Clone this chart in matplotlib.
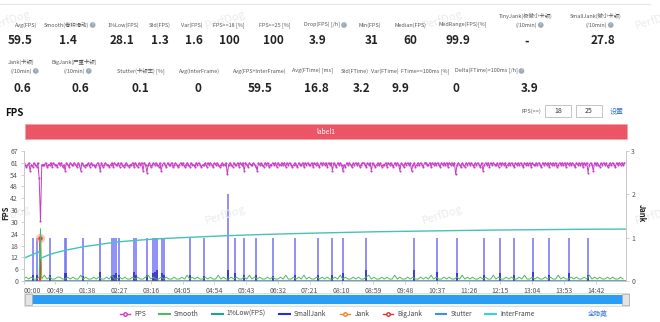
import numpy as np
import matplotlib.pyplot as plt
from matplotlib.lines import Line2D
from matplotlib.patches import Rectangle

plt.rcParams['font.family'] = ['Noto Sans CJK SC', 'DejaVu Sans']

# ---- summary table -------------------------------------------------------
row1_labels = ['Avg(FPS)', 'Smooth(卷积滑动)', '1%Low(FPS)', 'Std(FPS)', 'Var(FPS)',
               'FPS>=18 [%]', 'FPS>=25 [%]', 'Drop(FPS) [/h]', 'Min(FPS)',
               'Median(FPS)', 'MedRange(FPS)[%]', 'TinyJank(极微小卡顿)\n(/10min)',
               'SmallJank(微小卡顿)\n(/10min)']
row1_values = ['59.5', '1.4', '28.1', '1.3', '1.6', '100', '100', '3.9', '31',
               '60', '99.9', '-', '27.8']
row2_labels = ['Jank(卡顿)\n(/10min)', 'BigJank(严重卡顿)\n(/10min)', 'Stutter(卡顿率) [%]',
               'Avg(InterFrame)', 'Avg(FPS+InterFrame)', 'Avg(FTime) [ms]', 'Std(FTime)',
               'Var(FTime)', 'FTime>=100ms [%]', 'Delta(FTime)>100ms [/h]']
row2_values = ['0.6', '0.6', '0.1', '0', '59.5', '16.8', '3.2', '9.9', '0', '3.9']

# ---- time series (seconds) -----------------------------------------------
# FPS sampled every 2 s, one code per sample
FPS_LEVELS = {'a': 61, '0': 60, '9': 59, '8': 57, '7': 56, '5': 55}
FPS_CODES = (
    "a090a809a09a00000a900a9a009a0a908a09a00a09a08a0900a9a0090a"
    "08a90a0090a9a00a9a090a0900a9a09a0a8a070a90a0a09a80a09a00a9"
    "0a090a0a90a09a009a0a0900a9a0a09a0a090a00a50a09a00a9a0a8a09"
    "a00a098a0a09a0a900a0a9a00a0a9a0a090a09a00a9a0a00a9a0a09a0a"
    "0a9a0a8a09a0a0809a0a09a0a0a90aa09a0a8a090a0a900a9a0a09a0a0"
    "8a09a0a0a80a90a0a09aa00a9a0a0a09a0a0a9a0a0a50a09a09a0a0a09"
    "a0a09a80a0a9a0a00a9a0a0a90a0a09a0a0a09a0a0a9a00a0a09a0a0a9"
    "a0a0a90a0a0a9a0a0a09a0a0a9a0a70a08a0a09a0a0a90a0a09a0a0a0a"
)
fps_drop_t = [24, 26]
fps_drop_v = [53, 31]

# Smooth sampled every 4 s
SMOOTH_CODES = (
    "1212112131211221121211312112121121311212112121123121121211"
    "2112131212112121131211212112131212112121121311212131211212"
    "1211213121121211231211212113121121211212131211212112131212"
    "1121211312112121121311212112121131211212112131212112121121"
)
smooth_spike_t = [26]
smooth_spike_v = [27]

# 1%Low(FPS), running value
low_t = [0, 12, 24, 26, 41, 54, 66, 80, 92, 105, 118, 130, 143, 170, 195, 220,
         246, 280, 315, 360, 410, 472, 540, 600, 660, 729, 800, 860, 928]
low_v = [11.7, 13.4, 15.1, 11.7, 13.8, 15.0, 16.0, 16.9, 17.7, 18.3, 18.9, 19.5,
         20.1, 20.9, 21.5, 22.0, 22.4, 22.9, 23.4, 23.9, 24.4, 24.9, 25.4, 25.7,
         26.0, 26.3, 26.5, 26.7, 26.8]

# SmallJank events (count) and the stutter stub under each
small_jank_t = [15, 20, 26, 40, 64, 65, 91, 118, 137, 140, 143, 147, 170, 174,
                190, 199, 202, 206, 214, 216, 256, 278, 315, 326, 340, 358, 385,
                418, 454, 476, 493, 528, 602, 637, 668, 709, 734, 756, 785, 810,
                840, 870]
small_jank_v = [1] * 22 + [2] + [1] * 19
stutter_v = [0.15, 0.15, 0.2, 0.15, 0.18, 0.18, 0.12, 0.2, 0.15, 0.15, 0.18, 0.15,
             0.2, 0.15, 0.15, 0.18, 0.2, 0.25, 0.18, 0.15, 0.15, 0.12, 0.25, 0.18,
             0.15, 0.15, 0.12, 0.15, 0.15, 0.15, 0.18, 0.25, 0.25, 0.2, 0.18, 0.15,
             0.18, 0.15, 0.2, 0.15, 0.18, 0.15]
jank_t = [26]
jank_v = [1]
big_jank_t = [26]
big_jank_v = [1]

duration = 928

W, H = 660, 322
def fx(x):
    return x / W
def fy(y):
    return 1 - y / H

fig = plt.figure(figsize=(6.6, 3.22), dpi=100)
renderer = fig.canvas.get_renderer()

# watermark
for wx in [10, 225, 442, 655]:
    for wy in [20, 215]:
        fig.text(fx(wx), fy(wy), 'PerfDog', fontsize=8, color='#ebebf0',
                 rotation=17, ha='center', va='center', zorder=0)

fig.add_artist(Line2D([0, fx(650)], [fy(4), fy(4)], color='#e6e6e6', lw=0.8))

def info_icon(x, y):
    fig.text(fx(x), fy(y), '?', fontsize=2.4, color='white', ha='center', va='center',
             bbox=dict(boxstyle='circle,pad=0.25', fc='#9fa8b6', ec='none'))

def put_label(x, y, text, icon):
    lines = text.split('\n')
    if len(lines) == 2:
        fig.text(fx(x), fy(y - 9), lines[0], fontsize=3.9, color='#555555',
                 ha='center', va='center')
    t = fig.text(fx(x), fy(y), lines[-1], fontsize=3.9, color='#555555',
                 ha='center', va='center')
    if icon:
        right = t.get_window_extent(renderer).x1
        info_icon(right + 4, y)

label1_x = [26, 66, 123, 160, 192, 229, 275, 322, 370, 410, 463, 526, 596]
value1_x = [20, 68, 122, 160, 194, 229, 273, 318, 372, 410, 458, 527, 603]
icons1 = [False, True, False, False, False, False, False, True, False, False, False, True, True]
for i, lab in enumerate(row1_labels):
    put_label(label1_x[i], 25, lab, icons1[i])
    fig.text(fx(value1_x[i]), fy(41), row1_values[i], fontsize=8.5, fontweight='bold',
             color='#222222', ha='center', va='center')

label2_x = [21, 74, 141, 199, 260, 313, 355, 385, 425, 486]
value2_x = [22, 80, 140, 198, 260, 316, 362, 400, 456, 530]
icons2 = [True, True, False, False, False, False, False, False, False, True]
for i, lab in enumerate(row2_labels):
    put_label(label2_x[i], 71, lab, icons2[i])
    fig.text(fx(value2_x[i]), fy(88), row2_values[i], fontsize=8.5, fontweight='bold',
             color='#222222', ha='center', va='center')

# section header and threshold inputs
fig.text(fx(5), fy(113), 'FPS', fontsize=7, fontweight='bold', color='#111111', va='center')
fig.text(fx(541), fy(111), 'FPS(>=)', fontsize=4, color='#555555', ha='right', va='center')
for bx, val in [(545, '18'), (576, '25')]:
    fig.add_artist(Rectangle((fx(bx), fy(117)), 26 / W, 12 / H, transform=fig.transFigure,
                             fc='white', ec='#bbbbbb', lw=0.6))
    fig.text(fx(bx + 13), fy(111), val, fontsize=5, color='#333333', ha='center', va='center')
fig.text(fx(617), fy(111), '设置', fontsize=5, color='#3a7bd5', ha='center', va='center')

# label band
fig.add_artist(Rectangle((fx(25), fy(139)), 602 / W, 15 / H, transform=fig.transFigure,
                         fc='#ec5565', ec='#f5a0a8', lw=0.6))
fig.text(fx(326), fy(131.5), 'label1', fontsize=4.8, color='white', ha='center', va='center')

# ---- main chart -----------------------------------------------------------
ax = fig.add_axes([fx(23.6), fy(281), (625.7 - 23.6) / W, 130 / H])
ax2 = ax.twinx()
ax.set_zorder(ax2.get_zorder() + 1)
ax.patch.set_visible(False)

t_fps = np.arange(len(FPS_CODES)) * 2
fps = np.array([FPS_LEVELS[c] for c in FPS_CODES], dtype=float)
fps[np.searchsorted(t_fps, fps_drop_t)] = fps_drop_v

t_smooth = np.arange(len(SMOOTH_CODES)) * 4
smooth = np.array([int(c) for c in SMOOTH_CODES], dtype=float)
t_smooth = np.concatenate([t_smooth, smooth_spike_t])
smooth = np.concatenate([smooth, smooth_spike_v])
order = np.argsort(t_smooth, kind='stable')
t_smooth, smooth = t_smooth[order], smooth[order]

# right axis: janks
t_base = [0, duration]
ax2.plot(t_base, [0, 0], color='#3d8fe8', lw=1.2)
ax2.plot(t_base, [0, 0], color='#33d0e6', lw=1.0)
ax2.vlines(small_jank_t, 0, small_jank_v, color='#7373f5', lw=1.3, alpha=0.85)
ax2.vlines(small_jank_t, 0, stutter_v, color='#3535c8', lw=1.3)
ax2.vlines(jank_t, 0, jank_v, color='#f0862a', lw=1.4)
ax2.plot(t_base, [0, 0], color='#d9893a', lw=1.0)
ax2.vlines(big_jank_t, 0, big_jank_v, color='#e8302f', lw=1.2)
ax2.scatter(big_jank_t, big_jank_v, s=45, color='#f3a0a0', alpha=0.6, lw=0, zorder=5)
ax2.scatter(big_jank_t, big_jank_v, s=10, color='#e8302f', lw=0, zorder=6)

# left axis: FPS family
ax.plot(t_smooth, smooth, color='#52b85a', lw=0.7)
ax.plot(low_t, low_v, color='#45c2bb', lw=1.0)
ax.plot(t_fps, fps, color='#c83cc6', lw=0.7, marker='o', ms=1.5, mew=0)

ax.set_xlim(0, duration)
ax.set_ylim(0, 67.1)
ax2.set_ylim(0, 3)

yt = np.arange(12) * 6.1
ax.set_yticks(yt)
ax.set_yticklabels([str(int(np.floor(v + 1e-9))) for v in yt])
ax2.set_yticks([0, 1, 2, 3])

xt = np.arange(0, 883, 49)
ax.set_xticks(xt)
ax.set_xticklabels(['%02d:%02d' % (s // 60, s % 60) for s in xt])
ax.get_xticklabels()[0].set_horizontalalignment('left')

for a in (ax, ax2):
    a.spines['top'].set_visible(False)
    for side in ('left', 'right', 'bottom'):
        a.spines[side].set_color('#c8c8c8')
        a.spines[side].set_linewidth(0.7)
    a.tick_params(labelsize=5, colors='#555555', length=2.5, width=0.6, pad=1.5)
ax.spines['right'].set_visible(False)
ax2.spines['left'].set_visible(False)
ax2.spines['bottom'].set_visible(False)
ax.tick_params(axis='both', color='#c8c8c8')
ax2.tick_params(axis='y', color='#c8c8c8')

fig.text(fx(6), fy(213), 'FPS', fontsize=5.5, fontweight='bold', rotation=90,
         ha='center', va='center', color='#222222')
fig.text(fx(641), fy(213), 'Jank', fontsize=5.5, fontweight='bold', rotation=270,
         ha='center', va='center', color='#222222')

# zoom slider
fig.add_artist(Rectangle((fx(24), fy(306)), 605 / W, 13 / H, transform=fig.transFigure,
                         fc='#f3f3f3', ec='#d8d8d8', lw=0.6))
fig.add_artist(Rectangle((fx(28), fy(304)), 598 / W, 9 / H, transform=fig.transFigure,
                         fc='#2a9df4', ec='none'))
for hx in (25, 622):
    fig.add_artist(Rectangle((fx(hx), fy(305)), 7 / W, 11 / H, transform=fig.transFigure,
                             fc='#e4e4e4', ec='#aaaaaa', lw=0.5))

# legend
handles = [
    Line2D([], [], color='#c83cc6', lw=1, marker='o', ms=2.5, mfc='white'),
    Line2D([], [], color='#52b85a', lw=1.5),
    Line2D([], [], color='#1fa397', lw=1.5),
    Line2D([], [], color='#2b2bd8', lw=1.5),
    Line2D([], [], color='#f0862a', lw=1, marker='o', ms=2.5, mfc='white'),
    Line2D([], [], color='#e8302f', lw=1, marker='o', ms=2.5, mfc='white'),
    Line2D([], [], color='#3d8fe8', lw=1.5),
    Line2D([], [], color='#33d0e6', lw=1.5),
]
names = ['FPS', 'Smooth', '1%Low(FPS)', 'SmallJank', 'Jank', 'BigJank', 'Stutter', 'InterFrame']
fig.legend(handles, names, loc='center', bbox_to_anchor=(fx(327), fy(314)), ncol=8,
           frameon=False, fontsize=4.8, handlelength=1.6, handletextpad=0.6,
           columnspacing=2.0, labelcolor='#444444')
fig.text(fx(598), fy(314), '全隐藏', fontsize=4.8, color='#3a7bd5', ha='center', va='center')

fig.savefig('out.png', dpi=100)
